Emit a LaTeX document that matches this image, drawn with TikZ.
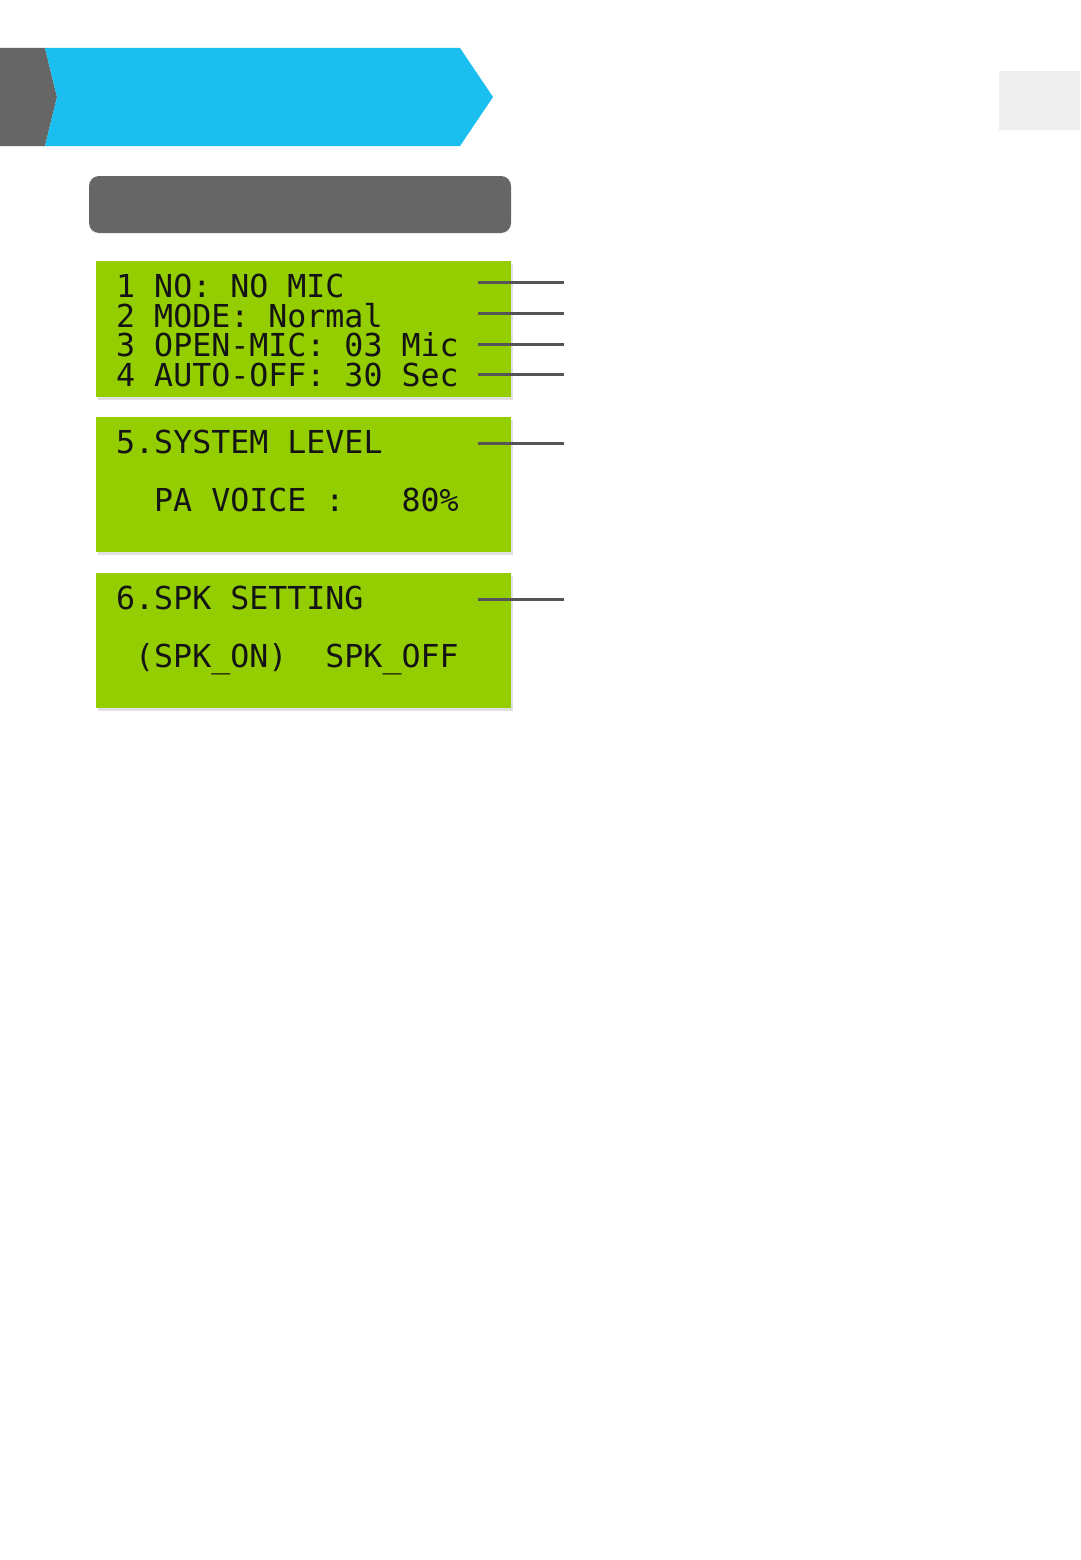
\documentclass[tikz,border=0pt]{standalone}
\usepackage{fontspec}
\newfontfamily\lcdfont{DejaVu Sans Mono}
\definecolor{lcdgreen}{RGB}{148,205,0}
\definecolor{hdrblue}{RGB}{27,191,239}
\definecolor{hdrgray}{RGB}{102,102,102}
\definecolor{tabgray}{RGB}{238,238,238}
\definecolor{leadgray}{RGB}{85,85,85}
\begin{document}
\begin{tikzpicture}[x=1pt,y=-1pt,
  lcdtext/.style={anchor=base west,inner sep=0pt,font=\lcdfont\fontsize{31.6}{31.6}\selectfont,text=black!92},
  lcdpanel/.style={fill=lcdgreen,draw=none},
  panelshadow/.style={fill=black!12,draw=none},
  leader/.style={draw=leadgray,line width=3pt}]
\useasboundingbox[fill=white] (0,0) rectangle (1080,1560);
% header
\fill[hdrgray] (0,48) -- (45,48) -- (57,97) -- (45,146) -- (0,146) -- cycle;
\fill[hdrblue] (45,48) -- (460,48) -- (493,97) -- (460,146) -- (45,146) -- (57,97) -- cycle;
\fill[hdrgray,rounded corners=10pt] (89,176) rectangle (511,233);
\fill[tabgray] (999,71) rectangle (1080,130);
% panels
\foreach \t/\b in {261/397,417/552,573/708}{
  \fill[panelshadow] (98,\t+3) rectangle (513,\b+3);
  \fill[lcdpanel] (96,\t) rectangle (511,\b);
}
% panel 1
\node[lcdtext] (l1) at (116,297) {1 NO: NO MIC};
\node[lcdtext] (l2) at (116,327) {2 MODE: Normal};
\node[lcdtext] (l3) at (116,356) {3 OPEN-MIC: 03 Mic};
\node[lcdtext] (l4) at (116,386) {4 AUTO-OFF: 30 Sec};
% panel 2
\node[lcdtext] (l5) at (116,453) {5.SYSTEM LEVEL};
\node[lcdtext] (l5b) at (154,511) {PA VOICE :\ \ \ 80\%};
% panel 3
\node[lcdtext] (l6) at (116,609) {6.SPK SETTING};
\node[lcdtext] (l6b) at (135,667) {(SPK\_ON)\ \ SPK\_OFF};
% leaders
\foreach \n/\y in {a/282,b/313,c/344,d/374,e/443,f/599}{
  \coordinate (s\n) at (478,\y);
  \coordinate (e\n) at (564,\y);
  \draw[leader] (s\n) -- (e\n);
}
\end{tikzpicture}
\end{document}
